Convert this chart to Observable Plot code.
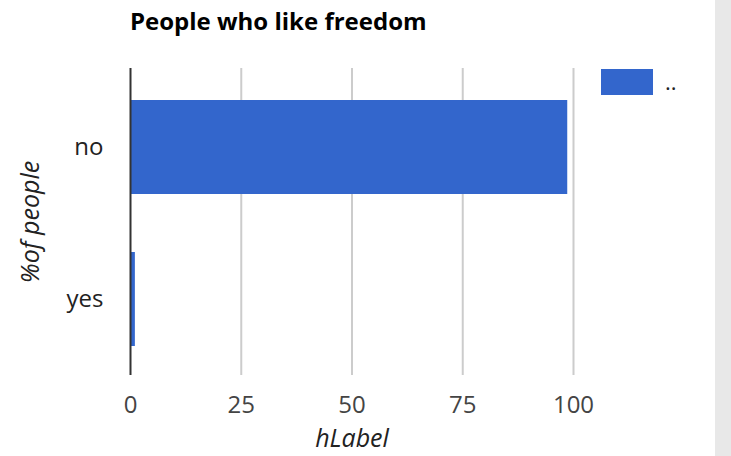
<!DOCTYPE html>
<html>
<head>
<meta charset="utf-8">
<script src="https://cdn.jsdelivr.net/npm/d3@7"></script>
<script src="https://cdn.jsdelivr.net/npm/@observablehq/plot@0.6"></script>
<style>
  html, body { margin: 0; padding: 0; background: #fff; }
  #wrap { position: relative; width: 731px; height: 456px; overflow: hidden; font-family: "Open Sans", sans-serif; }
  #title { position: absolute; left: 130px; top: 4px; font-size: 24px; line-height: normal; font-weight: 700; color: #000; white-space: nowrap; }
  #legend { position: absolute; left: 601px; top: 69px; display: flex; align-items: center; }
  #legend .sw { width: 52px; height: 26px; background: #3366cc; }
  #legend .lb { margin-left: 12px; margin-top: -2px; font-size: 22px; line-height: 26px; color: #222; }
  #scroll { position: absolute; left: 715px; top: 0; width: 16px; height: 456px; background: #e8e8e8; }
  #chart { position: absolute; left: 0; top: 0; }
</style>
</head>
<body>
<div id="wrap">
  <div id="chart"></div>
  <div id="title">People who like freedom</div>
  <div id="legend"><div class="sw"></div><div class="lb">..</div></div>
  <div id="scroll"></div>
</div>
<script>
const categories = ["no", "yes"];
const values = [98.7, 1.1];
const xTicks = [0, 25, 50, 75, 100];
const gridTicks = [25, 50, 75, 100];
const seriesName = "..";
const xLabel = "hLabel";
const yLabel = "%of people";

const data = categories.map((c, i) => ({category: c, value: values[i]}));

const chart = Plot.plot({
  width: 715,
  height: 456,
  marginLeft: 130,
  marginRight: 142,
  marginTop: 68,
  marginBottom: 81,
  style: {fontFamily: "Open Sans, sans-serif", background: "transparent"},
  x: {domain: [0, 100]},
  y: {domain: categories, range: [71, 375], paddingInner: 0.38, paddingOuter: 0.19},
  marks: [
    Plot.ruleX(gridTicks, {stroke: "#cccccc", strokeWidth: 2}),
    Plot.barX(data, {x: "value", y: "category", fill: "#3366cc"}),
    Plot.ruleX([0], {stroke: "#333333", strokeWidth: 2}),
    Plot.axisX(xTicks, {tickSize: 0, tickPadding: 20, fontSize: 24, fill: "#444", label: null}),
    Plot.axisY({tickSize: 0, tickPadding: 27, fontSize: 24, fill: "#222", label: null}),
    Plot.text([xLabel], {frameAnchor: "bottom", dy: 71, fontSize: 25, fontStyle: "italic", fill: "#222", text: d => d}),
    Plot.text([yLabel], {frameAnchor: "left", dx: -100, rotate: -90, textAnchor: "middle", fontSize: 25, fontStyle: "italic", fill: "#222", text: d => d})
  ]
});
document.getElementById("chart").appendChild(chart);
</script>
</body>
</html>
